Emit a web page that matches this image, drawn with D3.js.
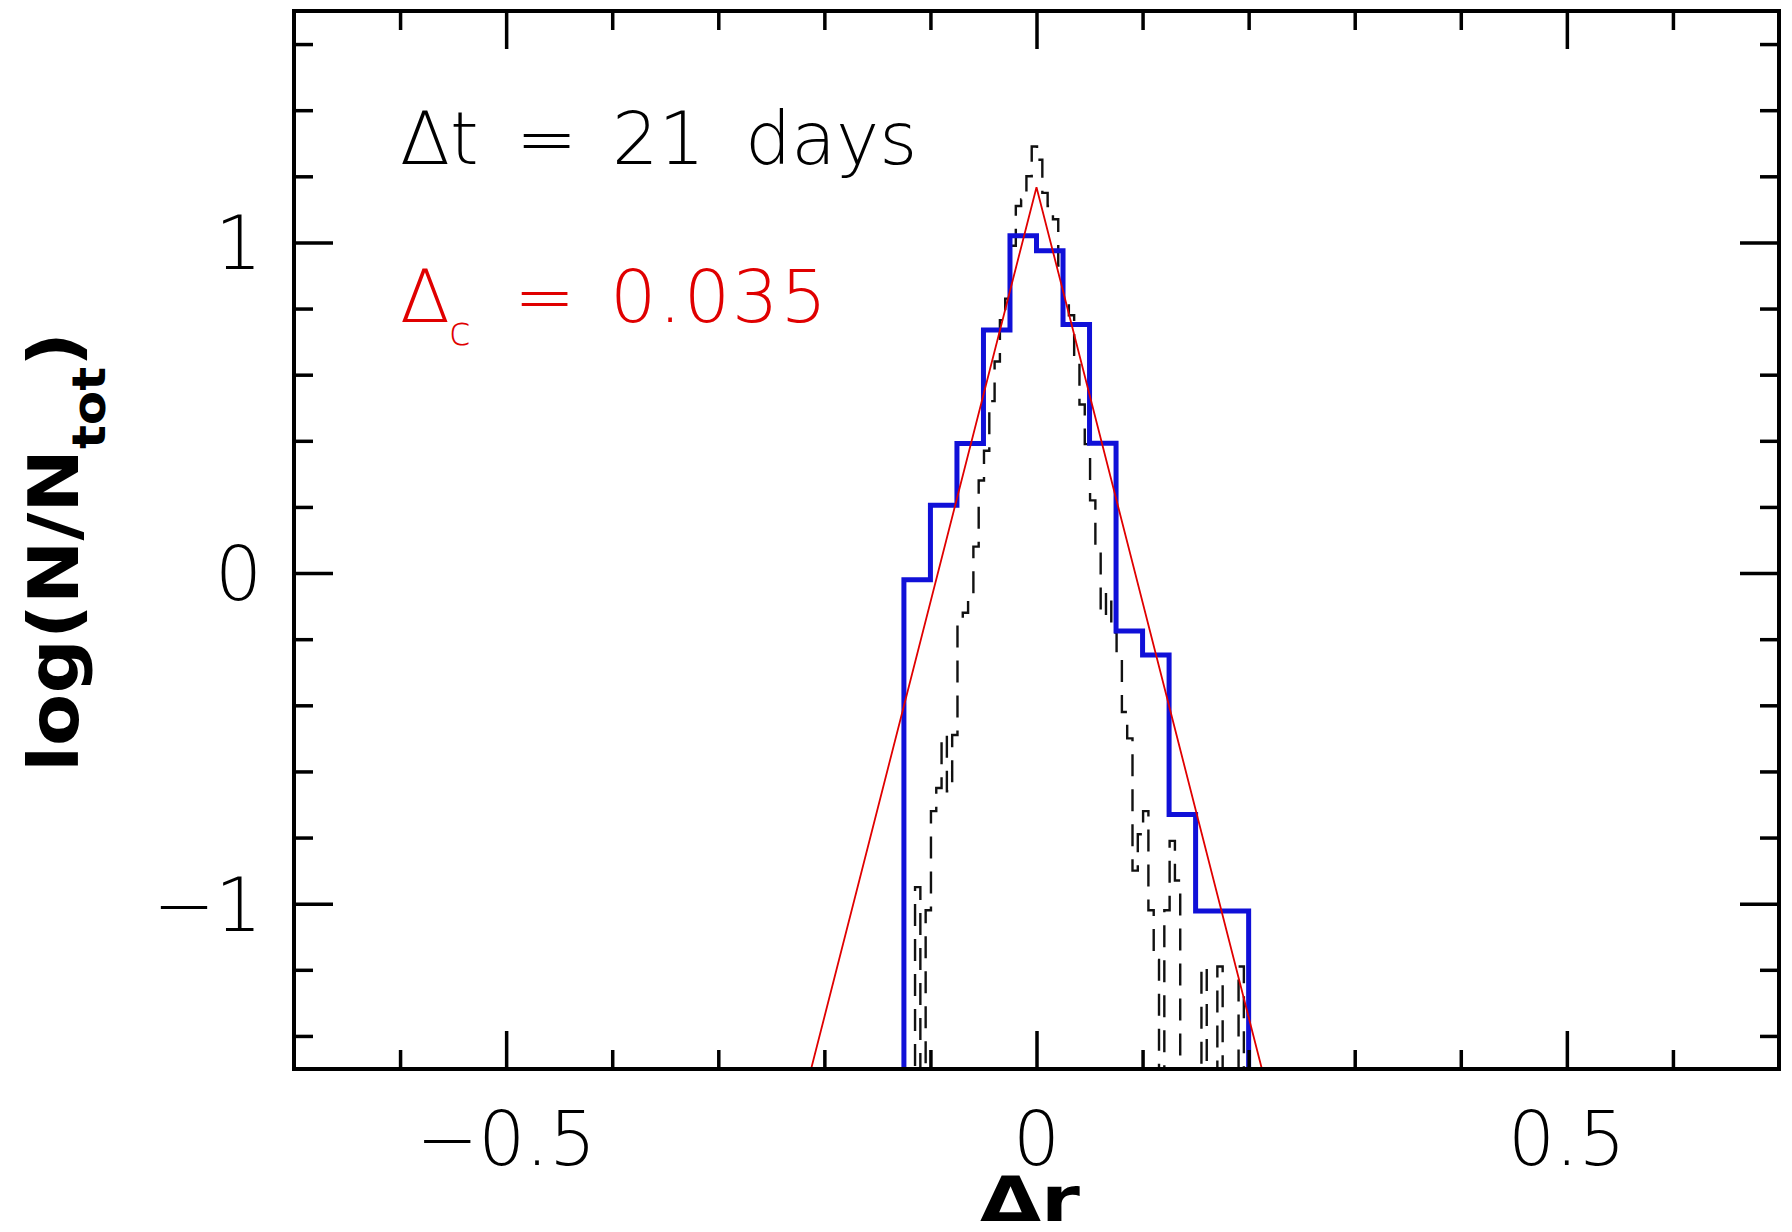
<!DOCTYPE html>
<html>
<head>
<meta charset="utf-8">
<script src="https://cdn.jsdelivr.net/npm/d3@7"></script>
<style>
  html, body { margin: 0; padding: 0; background: #fff; }
  #chart { width: 1792px; height: 1232px; }
  .thin { font-family: "DejaVu Sans", sans-serif; font-weight: 200; }
  .tick-label { font-family: "DejaVu Sans", sans-serif; font-weight: 200; font-size: 74px; }
  .title { font-family: "DejaVu Sans", sans-serif; font-weight: bold; }
</style>
</head>
<body>
<div id="chart"></div>
<script>
// coarse histogram (blue), bins of 0.025 starting at -0.125
const coarseStart = -0.125;
const coarseWidth = 0.025;
const coarseLogN = [-0.02, 0.205, 0.392, 0.735, 1.02, 0.975, 0.752, 0.393, -0.175, -0.248, -0.73, -1.022, -1.022];

// fine histogram (black dashed), bins of 0.005 starting at -0.1245, null = empty bin
const fineStart = -0.1245;
const fineWidth = 0.005;
const fineLogN = [
  null, null, -0.95, null, -1.02, -0.72, -0.65, -0.49, -0.66, -0.49,
  -0.15, -0.12, -0.08, 0.08, 0.28, 0.37, 0.52, 0.64, 0.765, 0.83,
  0.99, 1.11, 1.13, 1.20, 1.29, 1.25, 1.15, 1.11, 1.07, 0.93,
  0.83, 0.78, 0.66, 0.51, 0.39, 0.22, 0.076, -0.13, -0.06, -0.18,
  -0.26, -0.42, -0.50, -0.90, -0.79, -0.72, -1.02, -1.17, null, -1.02,
  -0.81, -0.93, null, null, null, null, -1.19, null, null, -1.19,
  null, null, null, -1.19, null
];

// fitted exponential (red), straight in log space
const fitX = [-0.2125, 0, 0.2125];
const fitLogN = [-1.5, 1.167, -1.5];

const xMajor = [-0.5, 0, 0.5];
const xMinor = [-0.6, -0.4, -0.3, -0.2, -0.1, 0.1, 0.2, 0.3, 0.4, 0.6];
const yMajor = [-1, 0, 1];
const yMinor = [-1.4, -1.2, -0.8, -0.6, -0.4, -0.2, 0.2, 0.4, 0.6, 0.8, 1.2, 1.4, 1.6];

const W = 1792, H = 1232;
const margin = { top: 11, right: 13, bottom: 163, left: 294 };
const width = W - margin.left - margin.right;
const height = H - margin.top - margin.bottom;

const root = d3.select("#chart")
  .append("svg")
  .attr("width", W)
  .attr("height", H)
  .attr("viewBox", `0 0 ${W} ${H}`);

const svg = root.append("g")
  .attr("transform", `translate(${margin.left},${margin.top})`);

const x = d3.scaleLinear().domain([-0.7, 0.7]).range([0, width]);
const y = d3.scaleLinear().domain([-1.5, 1.7]).range([height, 0]);

svg.append("clipPath")
  .attr("id", "plot-clip")
  .append("rect")
  .attr("width", width)
  .attr("height", height);

const FLOOR = -2.2;

function stepPoints(start, binW, values) {
  const pts = [[start, FLOOR]];
  values.forEach((v, i) => {
    const lv = v === null ? FLOOR : v;
    pts.push([start + i * binW, lv], [start + (i + 1) * binW, lv]);
  });
  pts.push([start + values.length * binW, FLOOR]);
  return pts;
}

const line = d3.line().x(d => x(d[0])).y(d => y(d[1]));

const plot = svg.append("g").attr("clip-path", "url(#plot-clip)");

plot.append("path")
  .attr("d", line(stepPoints(fineStart, fineWidth, fineLogN)))
  .attr("fill", "none")
  .attr("stroke", "#111")
  .attr("stroke-width", 2.4)
  .attr("stroke-dasharray", "22,13");

plot.append("path")
  .attr("d", line(stepPoints(coarseStart, coarseWidth, coarseLogN)))
  .attr("fill", "none")
  .attr("stroke", "#1010d8")
  .attr("stroke-width", 5);

plot.append("path")
  .attr("d", line(fitX.map((d, i) => [d, fitLogN[i]])))
  .attr("fill", "none")
  .attr("stroke", "#e00000")
  .attr("stroke-width", 1.8);

// ticks on all four sides, pointing inward
function ticks(axis, transform) {
  const g = svg.append("g").attr("transform", transform).call(axis);
  g.select(".domain").remove();
  g.selectAll("line").attr("stroke", "#000").attr("stroke-width", 3.5);
}
ticks(d3.axisBottom(x).tickValues(xMajor).tickSize(-38).tickFormat(""), `translate(0,${height})`);
ticks(d3.axisBottom(x).tickValues(xMinor).tickSize(-19).tickFormat(""), `translate(0,${height})`);
ticks(d3.axisTop(x).tickValues(xMajor).tickSize(-38).tickFormat(""), "translate(0,0)");
ticks(d3.axisTop(x).tickValues(xMinor).tickSize(-19).tickFormat(""), "translate(0,0)");
ticks(d3.axisLeft(y).tickValues(yMajor).tickSize(-39).tickFormat(""), "translate(0,0)");
ticks(d3.axisLeft(y).tickValues(yMinor).tickSize(-19).tickFormat(""), "translate(0,0)");
ticks(d3.axisRight(y).tickValues(yMajor).tickSize(-39).tickFormat(""), `translate(${width},0)`);
ticks(d3.axisRight(y).tickValues(yMinor).tickSize(-19).tickFormat(""), `translate(${width},0)`);

svg.append("rect")
  .attr("width", width)
  .attr("height", height)
  .attr("fill", "none")
  .attr("stroke", "#000")
  .attr("stroke-width", 4);

// tick labels
const fmtX = d => d === 0 ? "0" : d3.format(".1f")(d);
svg.selectAll(".xlab")
  .data(xMajor)
  .join("text")
  .attr("class", "tick-label")
  .attr("x", d => x(d))
  .attr("y", height + 96)
  .attr("text-anchor", "middle")
  .text(fmtX);

svg.selectAll(".ylab")
  .data(yMajor)
  .join("text")
  .attr("class", "tick-label")
  .attr("x", -32)
  .attr("y", d => y(d) + 27)
  .attr("text-anchor", "end")
  .text(d3.format("d"));

// axis titles
root.append("text")
  .attr("class", "title")
  .attr("x", 1030)
  .attr("y", 1221)
  .attr("text-anchor", "middle")
  .attr("textLength", 100)
  .attr("lengthAdjust", "spacingAndGlyphs")
  .style("font-size", "62px")
  .text("Δr");

const yt = root.append("text")
  .attr("class", "title")
  .attr("transform", "translate(78,552) rotate(-90)")
  .attr("text-anchor", "middle")
  .attr("textLength", 440)
  .attr("lengthAdjust", "spacingAndGlyphs")
  .style("font-size", "70px");
yt.append("tspan").text("log(N/N");
yt.append("tspan").attr("dy", 27).style("font-size", "46px").text("tot");
yt.append("tspan").attr("dy", -27).text(")");

// annotations
const t1 = root.append("text").attr("class", "thin").attr("y", 164).style("font-size", "73px").attr("fill", "#000");
t1.append("tspan").attr("x", 400).text("Δt");
t1.append("tspan").attr("x", 516).text("=");
t1.append("tspan").attr("x", 612).text("21");
t1.append("tspan").attr("x", 745).text("days");

const t2 = root.append("text").attr("class", "thin").attr("y", 322).style("font-size", "73px").attr("fill", "#e00000");
t2.append("tspan").attr("x", 400).text("Δ");
t2.append("tspan").attr("x", 449).attr("y", 345).style("font-size", "40px").text("c");
t2.append("tspan").attr("x", 514).attr("y", 322).text("=");
t2.append("tspan").attr("x", 610).style("letter-spacing", "2px").text("0.035");
</script>
</body>
</html>
